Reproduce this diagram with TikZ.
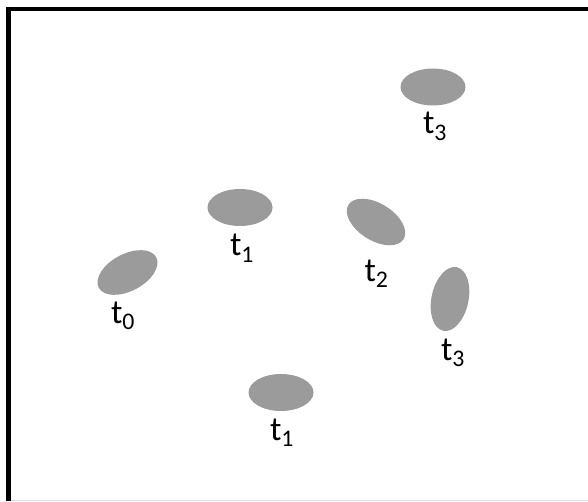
\documentclass[tikz,border=0pt]{standalone}
\usepackage{fontspec}
\setmainfont{Carlito}
\usepackage{tikz}
\usetikzlibrary{shapes.geometric}

\definecolor{blobgray}{RGB}{155,155,155}

\tikzset{
	blob/.style={ellipse, fill=blobgray, inner sep=0pt, minimum width=65pt, minimum height=37pt},
	tlabel/.style={anchor=base, inner sep=0pt, font=\fontsize{34}{40}\selectfont}
}

\begin{document}
\begin{tikzpicture}[x=1pt, y=1pt]
		\useasboundingbox (0,0) rectangle (588,501);
		\draw[gray!25, line width=1pt] (11,0.5) -- (588,0.5);
		\draw[line width=4.5pt] (8.5,0) -- (8.5,492) -- (588,492);
		
		\node[blob, rotate=28] (e0) at (127.5,228.5) {};
		\node[blob] (e1a) at (240,293.5) {};
		\node[blob] (e1b) at (281,108.5) {};
		\node[blob, rotate=-32] (e2) at (376,279) {};
		\node[blob] (e3a) at (433,414) {};
		\node[blob, rotate=78] (e3b) at (450,202) {};
		
		\node[tlabel] (l0) at (123,178) {t\textsubscript{0}};
		\node[tlabel] (l1a) at (242,245) {t\textsubscript{1}};
		\node[tlabel] (l1b) at (282,61) {t\textsubscript{1}};
		\node[tlabel] (l2) at (376.5,220) {t\textsubscript{2}};
		\node[tlabel] (l3a) at (435,367) {t\textsubscript{3}};
		\node[tlabel] (l3b) at (453,141) {t\textsubscript{3}};
		
	\end{tikzpicture}
\end{document}
